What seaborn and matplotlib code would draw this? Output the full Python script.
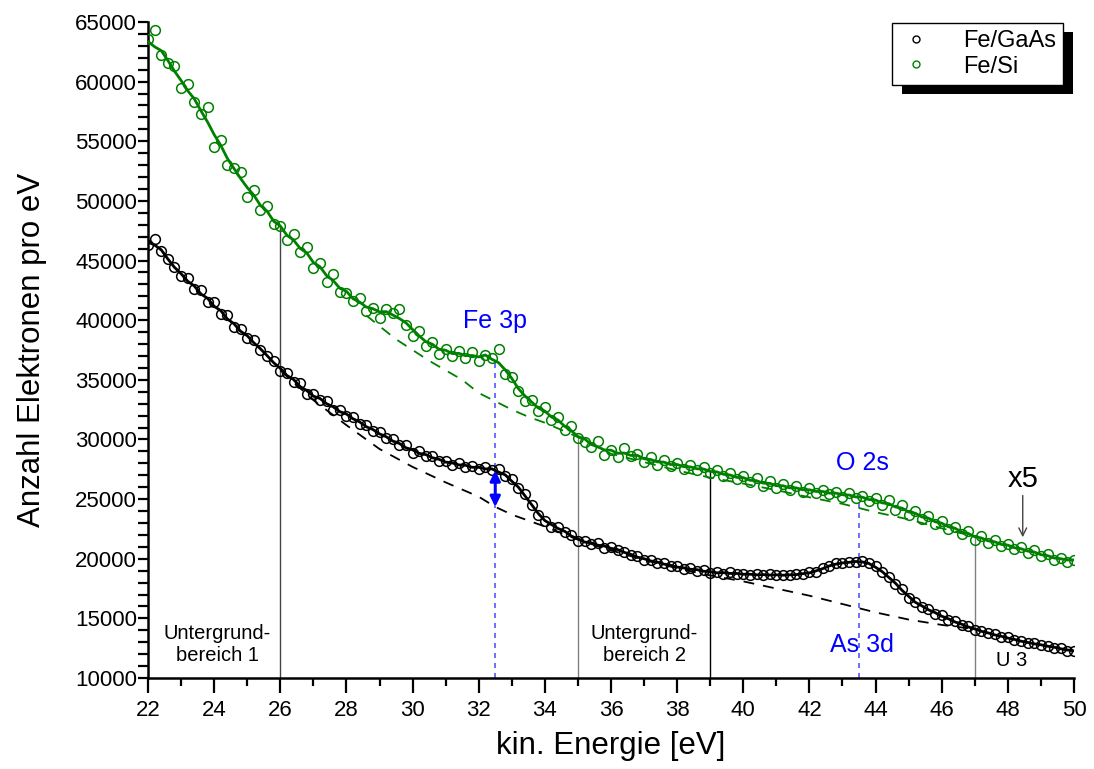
import numpy as np
import pandas as pd
import matplotlib
matplotlib.use("Agg")
import matplotlib.pyplot as plt
from matplotlib.patches import Rectangle
from matplotlib.lines import Line2D
from matplotlib.transforms import IdentityTransform
from matplotlib.ticker import MultipleLocator
import seaborn as sns

# Kinetic energy grid of the spectra [eV]
energy = np.round(np.arange(22.0, 50.01, 0.2), 1)

# Measured counts per eV, Fe/GaAs
fe_gaas = [
    46300, 46800, 45800, 45100, 44500, 43700, 43500, 42600, 42500, 41500,
    41500, 40500, 40400, 39400, 39300, 38500, 38300, 37500, 37000, 36600,
    35700, 35600, 34800, 34700, 33800, 33800, 33300, 33200, 32500, 32500,
    32000, 31900, 31300, 31200, 30700, 30600, 30100, 30000, 29500, 29500,
    28900, 29000, 28600, 28600, 28200, 28200, 27900, 28000, 27700, 27800,
    27500, 27700, 27400, 27500, 26900, 26700, 25900, 25400, 24500, 23700,
    23200, 22700, 22700, 22200, 22000, 21500, 21500, 21200, 21300, 20900,
    21000, 20700, 20600, 20300, 20200, 19900, 19900, 19650, 19600, 19400,
    19350, 19150, 19200, 19000, 19050, 18800, 18900, 18750, 18850, 18700,
    18750, 18650, 18700, 18600, 18700, 18600, 18650, 18600, 18700, 18700,
    18850, 18900, 19200, 19400, 19600, 19650, 19700, 19750, 19850, 19600,
    19350, 18900, 18500, 17900, 17450, 16700, 16400, 15950, 15800, 15400,
    15250, 14900, 14750, 14450, 14350, 14050, 13950, 13750, 13650, 13450,
    13400, 13200, 13100, 12950, 12900, 12750, 12700, 12550, 12500, 12300,
    12250,
]

# Measured counts per eV, Fe/Si (scaled x5)
fe_si = [
    63600, 64300, 62200, 61600, 61300, 59500, 59800, 58300, 57300, 57900,
    54500, 55100, 53000, 52800, 52400, 50300, 50900, 49200, 49600, 48100,
    47900, 46700, 47200, 45700, 46100, 44400, 44800, 43200, 43900, 42400,
    42300, 41600, 41900, 40800, 41000, 40200, 40900, 40600, 40900, 39600,
    38700, 39100, 37800, 38200, 37200, 37600, 37000, 37400, 36800, 37300,
    36600, 37100, 36800, 37600, 35500, 35200, 34100, 33200, 33300, 32400,
    32700, 31600, 31900, 30800, 31100, 30100, 29800, 29400, 29900, 28700,
    29100, 28500, 29300, 28600, 28800, 28100, 28500, 27900, 28300, 27800,
    28000, 27500, 27900, 27400, 27700, 27200, 27400, 26900, 27200, 26700,
    26900, 26400, 26800, 26100, 26500, 25900, 26300, 25800, 26100, 25600,
    25900, 25500, 25800, 25400, 25600, 25200, 25500, 25100, 25300, 24800,
    25100, 24500, 24900, 24100, 24500, 23700, 24000, 23300, 23600, 22900,
    23200, 22500, 22700, 22100, 22300, 21600, 21900, 21300, 21600, 21100,
    21200, 20800, 21000, 20500, 20700, 20200, 20400, 19900, 20100, 19700,
    19900,
]

# Background curves under the peaks
bg_gaas_e = [26.0, 27.0, 28.0, 29.0, 30.0, 31.0, 32.0, 32.5, 33.0, 34.0,
             35.0, 36.0, 37.0, 38.0, 39.0, 40.0, 41.0, 42.0, 43.0, 44.0,
             45.0, 46.0, 47.0]
bg_gaas = [35800, 33300, 31200, 29200, 27700, 26400, 25200, 24350, 23700, 22700,
           21600, 20700, 19900, 19200, 18600, 18100, 17500, 16900, 16200, 15500,
           14900, 14450, 14100]
bg_si_e = [28.6, 29.0, 29.5, 30.0, 30.5, 31.0, 31.5, 32.0, 32.5, 33.0,
           33.5, 34.0, 34.5, 35.0, 36.0, 37.0, 38.0, 39.0, 40.0, 41.0,
           42.0, 43.0, 43.5, 44.0, 45.0, 46.0, 47.0]
bg_si = [40400, 39500, 38400, 37500, 36600, 35800, 35000, 33900, 33200, 32500,
         31900, 31400, 30800, 30200, 28800, 28100, 27400, 26800, 26300, 25750,
         25150, 24600, 24250, 23900, 23300, 22550, 21850]

# Integration window borders and peak positions [eV]
window_borders = [26.0, 35.0, 39.0, 47.0]
window_colors = ["#444444", "#808080", "#000000", "#808080"]
peak_fe3p = 32.5
peak_as3d = 43.5

green = "#008000"
blue = "#0000ff"

sns.set_style("ticks")
plt.rcParams["font.family"] = ["Liberation Sans", "DejaVu Sans"]
plt.rcParams.update({"text.color": "black", "axes.labelcolor": "black",
                     "xtick.color": "black", "ytick.color": "black",
                     "axes.edgecolor": "black"})

fig = plt.figure(figsize=(10.94, 7.69), dpi=100)
ax = fig.add_axes([148 / 1094, 1 - 678 / 769, 926 / 1094, 656 / 769])

df = pd.DataFrame({"E": energy, "gaas": fe_gaas, "si": fe_si})
df["gaas_s"] = df["gaas"].rolling(3, center=True, min_periods=1).mean()
df["si_s"] = df["si"].rolling(5, center=True, min_periods=1).mean()

# window borders and peak markers, drawn below the data
si_top = np.interp(window_borders, df["E"], df["si_s"])
for xb, top, c in zip(window_borders, si_top, window_colors):
    ax.plot([xb, xb], [10000, top], color=c, lw=1.0, zorder=1)
for xp in (peak_fe3p, peak_as3d):
    top = np.interp(xp, df["E"], df["si_s"])
    ax.plot([xp, xp], [10000, top], color="#5555ff", lw=1.2,
            ls=(0, (3, 3)), zorder=1)

# backgrounds
sns.lineplot(x=bg_gaas_e, y=bg_gaas, ax=ax, color="black", lw=1.3,
             linestyle=(0, (6, 5)), zorder=2)
sns.lineplot(x=bg_si_e, y=bg_si, ax=ax, color=green, lw=1.3,
             linestyle=(0, (6, 5)), zorder=2)

# smoothed curves
sns.lineplot(data=df, x="E", y="gaas_s", ax=ax, color="black", lw=2.0, zorder=3)
sns.lineplot(data=df, x="E", y="si_s", ax=ax, color=green, lw=2.0, zorder=3)

# measured points
sns.lineplot(data=df, x="E", y="gaas", ax=ax, linestyle="none", marker="o",
             markersize=7, markerfacecolor="none", markeredgecolor="black",
             markeredgewidth=1.1, zorder=4)
sns.lineplot(data=df, x="E", y="si", ax=ax, linestyle="none", marker="o",
             markersize=7, markerfacecolor="none", markeredgecolor=green,
             markeredgewidth=1.1, zorder=4)

# Fe 3p peak height
top_fe = np.interp(peak_fe3p, df["E"], df["gaas_s"])
bot_fe = np.interp(peak_fe3p, bg_gaas_e, bg_gaas)
ax.annotate("", xy=(peak_fe3p, bot_fe), xytext=(peak_fe3p, top_fe),
            arrowprops=dict(arrowstyle="<|-|>", color=blue, lw=2.2,
                            mutation_scale=15, shrinkA=0, shrinkB=0),
            zorder=5)

ax.text(32.5, 39900, "Fe 3p", color=blue, fontsize=18, ha="center", va="center")
ax.text(43.6, 28000, "O 2s", color=blue, fontsize=18, ha="center", va="center")
ax.text(43.6, 12800, "As 3d", color=blue, fontsize=18, ha="center", va="center")
ax.text(24.1, 12800, "Untergrund-\nbereich 1", fontsize=14.5, ha="center",
        va="center", linespacing=1.15)
ax.text(37.0, 12800, "Untergrund-\nbereich 2", fontsize=14.5, ha="center",
        va="center", linespacing=1.15)
ax.text(48.1, 11500, "U 3", fontsize=14.5, ha="center", va="center")
ax.text(48.45, 26700, "x5", fontsize=21, ha="center", va="center")
ax.annotate("", xy=(48.45, 21800), xytext=(48.45, 25300),
            arrowprops=dict(arrowstyle="->", color="#444444", lw=1.0,
                            mutation_scale=14, shrinkA=0, shrinkB=0))

ax.set_xlim(22, 50)
ax.set_ylim(10000, 65000)
ax.xaxis.set_major_locator(MultipleLocator(2))
ax.xaxis.set_minor_locator(MultipleLocator(1))
ax.yaxis.set_major_locator(MultipleLocator(5000))
ax.yaxis.set_minor_locator(MultipleLocator(1000))
ax.tick_params(axis="x", which="major", length=11, width=1.6, labelsize=16, pad=5)
ax.tick_params(axis="x", which="minor", length=6, width=1.6)
ax.tick_params(axis="y", which="both", length=7, width=1.6, labelsize=16, pad=1)
for side in ("top", "right"):
    ax.spines[side].set_visible(False)
for side in ("left", "bottom"):
    ax.spines[side].set_linewidth(1.8)
ax.set_xlabel("kin. Energie [eV]", fontsize=22.5, labelpad=7)
ax.set_ylabel("Anzahl Elektronen pro eV", fontsize=22.5, labelpad=20)

handles = [
    Line2D([], [], ls="none", marker="o", ms=5, mfc="none", mec="black",
           mew=1.0, label="Fe/GaAs"),
    Line2D([], [], ls="none", marker="o", ms=5, mfc="none", mec=green,
           mew=1.0, label="Fe/Si"),
]
leg = ax.legend(handles=handles, loc="upper right",
                bbox_to_anchor=(1063 / 1094, 1 - 23 / 769),
                bbox_transform=fig.transFigure, fontsize=17, frameon=True,
                fancybox=False, framealpha=1, edgecolor="black",
                handlelength=1.4, handletextpad=1.3, borderpad=0.3,
                labelspacing=0.15, borderaxespad=0)
leg.get_frame().set_linewidth(1.0)

# drop shadow of the legend box
fig.canvas.draw()
bb = leg.get_frame().get_window_extent()
shadow = Rectangle((bb.x0 + 10, bb.y0 - 9), bb.width, bb.height,
                   transform=IdentityTransform(), facecolor="black",
                   edgecolor="none", zorder=4.9, clip_on=False)
ax.add_patch(shadow)

fig.savefig("out.png", dpi=100)
